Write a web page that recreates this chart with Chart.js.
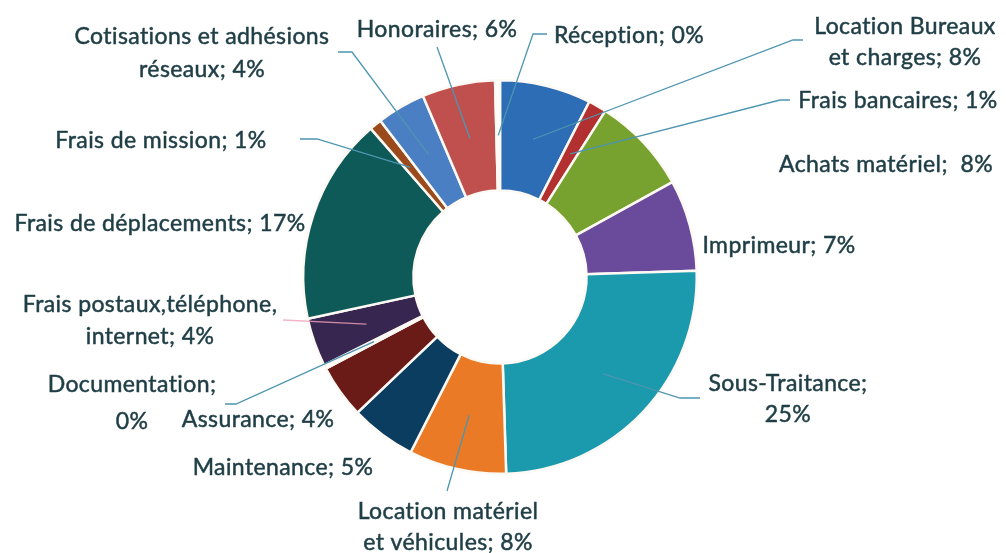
<!DOCTYPE html>
<html lang="fr">
<head>
<meta charset="utf-8">
<title>Répartition des charges</title>
<script src="https://cdn.jsdelivr.net/npm/chart.js@4.4.1/dist/chart.umd.min.js"></script>
<style>
    html, body {
        margin: 0;
        padding: 0;
        background: #ffffff;
    }
    #chartWrap {
        width: 1006px;
        height: 553px;
        position: relative;
    }
</style>
</head>
<body>
<div id="chartWrap">
    <canvas id="chargesChart" width="1006" height="553"></canvas>
</div>
<script>
// Categories, clockwise from 12 o'clock
const categories = [
    'Location Bureaux et charges',
    'Frais bancaires',
    'Achats matériel',
    'Imprimeur',
    'Sous-Traitance',
    'Location matériel et véhicules',
    'Maintenance',
    'Assurance',
    'Documentation',
    'Frais postaux,téléphone, internet',
    'Frais de déplacements',
    'Frais de mission',
    'Cotisations et adhésions réseaux',
    'Honoraires',
    'Réception'
];

// Share of each category (in %)
const shares = [7.5, 1.5, 8, 7.5, 25, 8, 5.4, 4.4, 0.3, 4, 17, 1, 4, 6, 0.4];

// Percent shown in the label text
const shownPercent = [8, 1, 8, 7, 25, 8, 5, 4, 0, 4, 17, 1, 4, 6, 0];

const sliceColors = [
    '#2d6db5', '#b2302f', '#77a22f', '#6a4a9a', '#1b9aad',
    '#ea7a25', '#0a3d60', '#6a1a17', '#ffffff', '#37264f',
    '#0e5a58', '#9b4a1c', '#4b7fc4', '#c0504e', '#ffffff'
];

// Label text lines (Excel breaks some of them in two)
const labelLines = [
    ['Location Bureaux', 'et charges; 8%'],
    ['Frais bancaires; 1%'],
    ['Achats matériel;  8%'],
    ['Imprimeur; 7%'],
    ['Sous-Traitance;', '25%'],
    ['Location matériel', 'et véhicules; 8%'],
    ['Maintenance; 5%'],
    ['Assurance; 4%'],
    ['Documentation;', '0%'],
    ['Frais postaux,téléphone,', 'internet; 4%'],
    ['Frais de déplacements; 17%'],
    ['Frais de mission; 1%'],
    ['Cotisations et adhésions', 'réseaux; 4%'],
    ['Honoraires; 6%'],
    ['Réception; 0%']
];

// Where each label sits and how its leader line bends (layout only)
const labelLayout = [
    { x: 905, y: 27, lh: 31, leader: [[793, 40], [803, 40]] },
    { x: 898, y: 101, lh: 31, leader: [[780, 100], [790, 100]] },
    { x: 886, y: 165, lh: 31, leader: null },
    { x: 779, y: 246, lh: 31, leader: null },
    { x: 788, y: 384, lh: 31, leader: [[680, 398], [700, 398]] },
    { x: 448, y: 512, lh: 31, leader: [[447, 491]] },
    { x: 283, y: 468, lh: 31, leader: null },
    { x: 258, y: 420, lh: 31, leader: null },
    { x: 132, y: 385, lh: 37, leader: [[236, 404], [225, 404]] },
    { x: 150, y: 305, lh: 32, leader: [[283, 320]], faint: true },
    { x: 160, y: 224, lh: 31, leader: null },
    { x: 161, y: 141, lh: 31, leader: [[317, 139], [300, 139]] },
    { x: 202, y: 37, lh: 33, leader: [[352, 52], [338, 52]] },
    { x: 437, y: 30, lh: 31, leader: [[437, 47]] },
    { x: 629, y: 36, lh: 31, leader: [[533, 34], [547, 34]] }
];

const labelFont = '23px Lato, "Open Sans", sans-serif';
const labelColor = '#1f3e46';
const leaderColor = '#4d95b1';

// Draws Excel-style outside labels with leader lines
const outsideLabels = {
    id: 'outsideLabels',
    afterDatasetsDraw(chart) {
        const ctx = chart.ctx;
        const arcs = chart.getDatasetMeta(0).data;

        ctx.save();
        arcs.forEach((arc, i) => {
            const layout = labelLayout[i];
            if (!layout.leader) return;
            const p = arc.getProps(['x', 'y', 'startAngle', 'endAngle', 'innerRadius', 'outerRadius'], true);
            const mid = (p.startAngle + p.endAngle) / 2;
            const r = (p.innerRadius + p.outerRadius) / 2;

            ctx.beginPath();
            ctx.moveTo(p.x + Math.cos(mid) * r, p.y + Math.sin(mid) * r);
            layout.leader.forEach(pt => ctx.lineTo(pt[0], pt[1]));
            ctx.strokeStyle = layout.faint ? 'rgba(240, 160, 185, 0.8)' : leaderColor;
            ctx.lineWidth = 1.3;
            ctx.stroke();
        });

        ctx.font = labelFont;
        ctx.letterSpacing = '0.4px';
        ctx.fillStyle = labelColor;
        ctx.strokeStyle = labelColor;
        ctx.lineWidth = 0.5;
        ctx.textAlign = 'center';
        ctx.textBaseline = 'middle';
        labelLines.forEach((lines, i) => {
            const layout = labelLayout[i];
            lines.forEach((line, j) => {
                ctx.fillText(line, layout.x, layout.y + j * layout.lh);
                ctx.strokeText(line, layout.x, layout.y + j * layout.lh);
            });
        });
        ctx.restore();
    }
};

const ctx = document.getElementById('chargesChart').getContext('2d');
new Chart(ctx, {
    type: 'doughnut',
    data: {
        labels: categories,
        datasets: [{
            data: shares,
            backgroundColor: sliceColors,
            borderColor: '#fdf9f4',
            borderWidth: 2.5
        }]
    },
    options: {
        responsive: false,
        animation: false,
        cutout: '44%',
        layout: {
            padding: { top: 79, bottom: 78, left: 302, right: 308 }
        },
        plugins: {
            legend: { display: false },
            tooltip: { enabled: false },
            title: { display: false }
        }
    },
    plugins: [outsideLabels]
});
</script>
</body>
</html>
